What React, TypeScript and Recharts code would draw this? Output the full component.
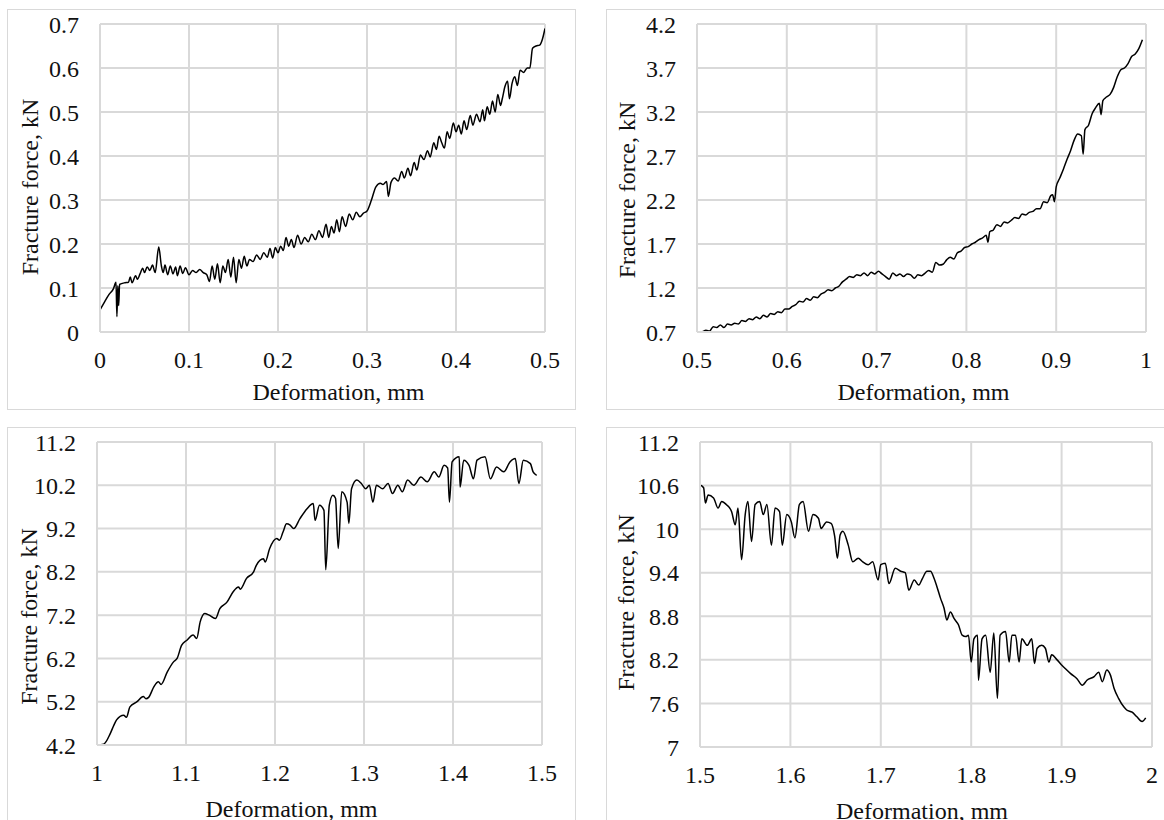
import { LineChart, Line, XAxis, YAxis, CartesianGrid, Label } from 'recharts';

const FONT = '"Liberation Serif", "Times New Roman", serif';
const GRID = '#d9d9d9';
const Y_AXIS_W = 80;

// axis ticks
const xTicks1 = [0, 0.1, 0.2, 0.3, 0.4, 0.5];
const yTicks1 = [0, 0.1, 0.2, 0.3, 0.4, 0.5, 0.6, 0.7];
const xTicks2 = [0.5, 0.6, 0.7, 0.8, 0.9, 1];
const yTicks2 = [0.7, 1.2, 1.7, 2.2, 2.7, 3.2, 3.7, 4.2];
const xTicks3 = [1, 1.1, 1.2, 1.3, 1.4, 1.5];
const yTicks3 = [4.2, 5.2, 6.2, 7.2, 8.2, 9.2, 10.2, 11.2];
const xTicks4 = [1.5, 1.6, 1.7, 1.8, 1.9, 2];
const yTicks4 = [7, 7.6, 8.2, 8.8, 9.4, 10, 10.6, 11.2];

// [deformation mm, fracture force kN]
const curve1: [number, number][] = [
  [0, 0.05], [0.005, 0.068], [0.01, 0.085], [0.015, 0.098], [0.018, 0.113], [0.019, 0.035], [0.02, 0.105], [0.021, 0.06], [0.022, 0.108], [0.028, 0.112],
  [0.032, 0.113], [0.034, 0.125], [0.036, 0.112], [0.04, 0.128], [0.042, 0.12], [0.045, 0.132], [0.048, 0.145], [0.05, 0.135], [0.053, 0.148], [0.056, 0.14],
  [0.059, 0.152], [0.062, 0.135], [0.066, 0.193], [0.069, 0.15], [0.071, 0.135], [0.073, 0.152], [0.076, 0.13], [0.079, 0.15], [0.082, 0.132], [0.085, 0.148],
  [0.087, 0.128], [0.09, 0.15], [0.093, 0.133], [0.096, 0.146], [0.1, 0.13], [0.104, 0.14], [0.108, 0.135], [0.112, 0.142], [0.116, 0.135], [0.12, 0.13],
  [0.123, 0.115], [0.126, 0.15], [0.129, 0.12], [0.132, 0.155], [0.135, 0.112], [0.138, 0.15], [0.141, 0.135], [0.144, 0.165], [0.147, 0.125], [0.15, 0.17],
  [0.153, 0.112], [0.156, 0.165], [0.159, 0.145], [0.162, 0.172], [0.165, 0.15], [0.168, 0.165], [0.172, 0.16], [0.176, 0.175], [0.18, 0.165], [0.184, 0.18],
  [0.188, 0.17], [0.191, 0.19], [0.194, 0.168], [0.197, 0.192], [0.2, 0.18], [0.203, 0.195], [0.206, 0.185], [0.209, 0.215], [0.212, 0.195], [0.215, 0.21],
  [0.218, 0.192], [0.222, 0.22], [0.226, 0.2], [0.23, 0.215], [0.234, 0.205], [0.238, 0.222], [0.242, 0.21], [0.246, 0.23], [0.25, 0.215], [0.254, 0.245],
  [0.257, 0.215], [0.26, 0.24], [0.263, 0.225], [0.266, 0.255], [0.269, 0.228], [0.272, 0.262], [0.276, 0.24], [0.28, 0.268], [0.284, 0.255], [0.288, 0.272],
  [0.292, 0.262], [0.296, 0.27], [0.3, 0.275], [0.305, 0.3], [0.31, 0.33], [0.315, 0.338], [0.318, 0.335], [0.322, 0.342], [0.324, 0.308], [0.327, 0.34],
  [0.331, 0.35], [0.335, 0.343], [0.339, 0.365], [0.342, 0.35], [0.346, 0.372], [0.349, 0.355], [0.353, 0.385], [0.356, 0.368], [0.36, 0.402], [0.364, 0.392],
  [0.368, 0.412], [0.371, 0.398], [0.375, 0.43], [0.378, 0.415], [0.381, 0.445], [0.384, 0.43], [0.387, 0.418], [0.39, 0.455], [0.393, 0.44], [0.397, 0.475],
  [0.4, 0.455], [0.403, 0.47], [0.406, 0.45], [0.409, 0.48], [0.412, 0.46], [0.416, 0.492], [0.419, 0.47], [0.423, 0.495], [0.427, 0.478], [0.43, 0.505],
  [0.432, 0.48], [0.435, 0.512], [0.438, 0.495], [0.441, 0.525], [0.444, 0.5], [0.447, 0.54], [0.45, 0.515], [0.452, 0.53], [0.455, 0.558], [0.458, 0.57],
  [0.46, 0.53], [0.463, 0.565], [0.466, 0.58], [0.469, 0.56], [0.472, 0.595], [0.476, 0.59], [0.48, 0.6], [0.483, 0.6], [0.486, 0.645], [0.49, 0.65],
  [0.494, 0.652], [0.497, 0.665], [0.5, 0.69],
];

const curve2: [number, number][] = [
  [0.5, 0.7], [0.505, 0.7], [0.51, 0.72], [0.514, 0.71], [0.518, 0.76], [0.522, 0.75], [0.526, 0.78], [0.53, 0.75], [0.534, 0.79], [0.538, 0.78],
  [0.542, 0.8], [0.546, 0.79], [0.55, 0.83], [0.554, 0.82], [0.558, 0.85], [0.562, 0.84], [0.566, 0.87], [0.57, 0.85], [0.574, 0.89], [0.578, 0.87],
  [0.582, 0.91], [0.586, 0.9], [0.59, 0.93], [0.594, 0.92], [0.598, 0.96], [0.602, 0.96], [0.606, 0.99], [0.61, 1.01], [0.614, 1.05], [0.618, 1.04],
  [0.622, 1.08], [0.626, 1.06], [0.63, 1.1], [0.634, 1.09], [0.638, 1.13], [0.642, 1.15], [0.646, 1.18], [0.65, 1.17], [0.654, 1.2], [0.658, 1.22],
  [0.662, 1.27], [0.666, 1.3], [0.67, 1.33], [0.674, 1.32], [0.678, 1.35], [0.682, 1.34], [0.686, 1.37], [0.69, 1.34], [0.694, 1.38], [0.698, 1.36],
  [0.702, 1.39], [0.706, 1.36], [0.71, 1.33], [0.714, 1.3], [0.718, 1.37], [0.722, 1.34], [0.726, 1.36], [0.73, 1.33], [0.734, 1.36], [0.738, 1.35],
  [0.742, 1.31], [0.746, 1.35], [0.75, 1.34], [0.754, 1.37], [0.758, 1.4], [0.762, 1.38], [0.766, 1.49], [0.77, 1.46], [0.774, 1.47], [0.778, 1.52],
  [0.782, 1.55], [0.786, 1.53], [0.79, 1.6], [0.794, 1.62], [0.798, 1.66], [0.802, 1.67], [0.806, 1.7], [0.81, 1.72], [0.814, 1.75], [0.818, 1.77],
  [0.822, 1.8], [0.824, 1.72], [0.826, 1.84], [0.83, 1.86], [0.834, 1.92], [0.838, 1.9], [0.842, 1.95], [0.846, 1.94], [0.85, 1.97], [0.854, 2.0],
  [0.858, 1.99], [0.862, 2.04], [0.866, 2.03], [0.87, 2.06], [0.874, 2.07], [0.878, 2.1], [0.882, 2.1], [0.886, 2.18], [0.89, 2.17], [0.894, 2.25],
  [0.896, 2.26], [0.898, 2.18], [0.9, 2.35], [0.904, 2.45], [0.908, 2.55], [0.912, 2.66], [0.916, 2.76], [0.92, 2.88], [0.924, 2.95], [0.928, 2.93],
  [0.93, 2.72], [0.932, 3.0], [0.936, 3.05], [0.94, 3.18], [0.944, 3.25], [0.948, 3.3], [0.95, 3.17], [0.952, 3.33], [0.956, 3.37], [0.96, 3.4],
  [0.964, 3.48], [0.968, 3.6], [0.972, 3.68], [0.976, 3.7], [0.98, 3.75], [0.984, 3.83], [0.988, 3.86], [0.992, 3.92], [0.996, 4.02],
];

const curve3: [number, number][] = [
  [1, 4.2], [1.0075, 4.22], [1.015, 4.47], [1.019, 4.66], [1.022, 4.78], [1.03, 4.89], [1.033, 4.84], [1.037, 5.08], [1.045, 5.2], [1.052, 5.32],
  [1.055, 5.27], [1.058, 5.3], [1.064, 5.55], [1.069, 5.66], [1.072, 5.6], [1.079, 5.89], [1.086, 6.12], [1.09, 6.2], [1.095, 6.5], [1.101, 6.62],
  [1.108, 6.74], [1.112, 6.66], [1.116, 7.05], [1.121, 7.24], [1.126, 7.2], [1.133, 7.12], [1.138, 7.35], [1.146, 7.5], [1.153, 7.74], [1.159, 7.85],
  [1.161, 7.8], [1.168, 8.05], [1.176, 8.2], [1.179, 8.35], [1.187, 8.5], [1.189, 8.43], [1.194, 8.74], [1.202, 8.97], [1.205, 8.93], [1.209, 9.12],
  [1.213, 9.31], [1.217, 9.28], [1.221, 9.2], [1.228, 9.43], [1.236, 9.66], [1.243, 9.78], [1.245, 9.39], [1.25, 9.74], [1.255, 9.62], [1.257, 8.25],
  [1.261, 9.74], [1.265, 9.97], [1.268, 9.9], [1.271, 8.74], [1.275, 10.05], [1.281, 9.81], [1.283, 9.32], [1.286, 10.12], [1.292, 10.32], [1.297, 10.24],
  [1.302, 10.12], [1.306, 10.2], [1.31, 9.81], [1.314, 10.2], [1.321, 10.12], [1.327, 10.24], [1.332, 10.01], [1.338, 10.2], [1.343, 10.05], [1.349, 10.32],
  [1.356, 10.2], [1.364, 10.39], [1.371, 10.28], [1.379, 10.51], [1.384, 10.39], [1.39, 10.66], [1.394, 10.6], [1.396, 9.81], [1.399, 10.74], [1.407, 10.86],
  [1.408, 10.16], [1.412, 10.78], [1.418, 10.66], [1.423, 10.35], [1.427, 10.78], [1.436, 10.86], [1.442, 10.35], [1.449, 10.62], [1.457, 10.51], [1.464, 10.74],
  [1.47, 10.82], [1.474, 10.24], [1.479, 10.78], [1.487, 10.7], [1.49, 10.51], [1.494, 10.43],
];

const curve4: [number, number][] = [
  [1.5, 10.61], [1.504, 10.57], [1.506, 10.36], [1.509, 10.47], [1.515, 10.43], [1.52, 10.29], [1.524, 10.38], [1.529, 10.34], [1.535, 10.24], [1.539, 10.06],
  [1.542, 10.29], [1.546, 9.58], [1.55, 10.2], [1.553, 10.38], [1.557, 9.83], [1.561, 10.34], [1.566, 10.38], [1.57, 10.2], [1.574, 10.34], [1.579, 9.78],
  [1.583, 10.29], [1.588, 10.24], [1.591, 9.78], [1.596, 10.2], [1.601, 10.1], [1.605, 9.88], [1.61, 10.34], [1.614, 10.38], [1.62, 9.97], [1.625, 10.2],
  [1.631, 10.15], [1.634, 10.01], [1.64, 10.1], [1.645, 10.08], [1.649, 9.9], [1.652, 9.6], [1.655, 9.92], [1.658, 9.97], [1.664, 9.78], [1.669, 9.55],
  [1.675, 9.6], [1.68, 9.55], [1.686, 9.51], [1.691, 9.55], [1.697, 9.3], [1.7, 9.51], [1.705, 9.53], [1.709, 9.25], [1.716, 9.46], [1.722, 9.42],
  [1.727, 9.4], [1.731, 9.16], [1.737, 9.3], [1.742, 9.23], [1.746, 9.32], [1.751, 9.42], [1.755, 9.42], [1.759, 9.32], [1.762, 9.21], [1.766, 9.05],
  [1.77, 8.91], [1.773, 8.75], [1.777, 8.86], [1.781, 8.77], [1.786, 8.68], [1.79, 8.54], [1.794, 8.52], [1.797, 8.54], [1.8, 8.17], [1.803, 8.49],
  [1.807, 8.54], [1.808, 7.92], [1.812, 8.49], [1.816, 8.54], [1.821, 8.03], [1.825, 8.57], [1.829, 7.67], [1.832, 8.54], [1.838, 8.59], [1.842, 8.17],
  [1.845, 8.54], [1.849, 8.54], [1.853, 8.17], [1.856, 8.49], [1.862, 8.4], [1.867, 8.49], [1.87, 8.15], [1.873, 8.36], [1.878, 8.4], [1.882, 8.36],
  [1.886, 8.17], [1.889, 8.27], [1.895, 8.2], [1.9, 8.13], [1.904, 8.08], [1.91, 8.01], [1.917, 7.94], [1.923, 7.85], [1.928, 7.92], [1.936, 7.97],
  [1.941, 8.03], [1.945, 7.9], [1.95, 8.06], [1.954, 7.99], [1.958, 7.81], [1.963, 7.67], [1.969, 7.55], [1.972, 7.51], [1.978, 7.48], [1.983, 7.42],
  [1.989, 7.35], [1.993, 7.4],
];

type PanelCfg = {
  box: { left: number; top: number; w: number; h: number };
  w: number;
  h: number;
  margin: { top: number; right: number; left: number };
  xAxisH: number;
  xTicks: number[];
  yTicks: number[];
  curve: [number, number][];
  xTitleDx: number;
  xTitleBase: number;
  yTitleDx: number;
  yTitleDy: number;
};

const panels: PanelCfg[] = [
  {
    box: { left: 7, top: 9, w: 569, h: 401 }, w: 566, h: 398,
    margin: { top: 14, right: 29, left: 12 }, xAxisH: 76,
    xTicks: xTicks1, yTicks: yTicks1, curve: curve1,
    xTitleDx: 16, xTitleBase: 68, yTitleDx: 70, yTitleDy: 9,
  },
  {
    box: { left: 606, top: 9, w: 600, h: 401 }, w: 557, h: 398,
    margin: { top: 14, right: 18, left: 10 }, xAxisH: 76,
    xTicks: xTicks2, yTicks: yTicks2, curve: curve2,
    xTitleDx: 2, xTitleBase: 68, yTitleDx: 70, yTitleDy: 12,
  },
  {
    box: { left: 7, top: 427, w: 569, h: 420 }, w: 566, h: 392,
    margin: { top: 14, right: 32, left: 9 }, xAxisH: 75,
    xTicks: xTicks3, yTicks: yTicks3, curve: curve3,
    xTitleDx: -28, xTitleBase: 72, yTitleDx: 68, yTitleDy: 23,
  },
  {
    box: { left: 606, top: 427, w: 600, h: 420 }, w: 557, h: 392,
    margin: { top: 14, right: 12, left: 13 }, xAxisH: 73,
    xTicks: xTicks4, yTicks: yTicks4, curve: curve4,
    xTitleDx: -4, xTitleBase: 72, yTitleDx: 74, yTitleDy: 8,
  },
];

const tickStyle = { fontFamily: FONT, fontSize: 24, fill: '#111' };

function Panel({ cfg }: { cfg: PanelCfg }) {
  const data = cfg.curve.map(([x, y]) => ({ x, y }));
  const plotLeft = cfg.margin.left + Y_AXIS_W;
  const plotRight = cfg.w - cfg.margin.right;
  const plotTop = cfg.margin.top;
  const plotBottom = cfg.h - cfg.xAxisH;
  const xMid = (plotLeft + plotRight) / 2 + cfg.xTitleDx;
  const yMid = (plotTop + plotBottom) / 2 + cfg.yTitleDy;
  const yX = plotLeft - cfg.yTitleDx;

  return (
    <>
      <div
        style={{
          position: 'absolute',
          left: cfg.box.left,
          top: cfg.box.top,
          width: cfg.box.w,
          height: cfg.box.h,
          border: `1.5px solid ${GRID}`,
          boxSizing: 'border-box',
        }}
      />
      <div style={{ position: 'absolute', left: cfg.box.left + 1, top: cfg.box.top + 1 }}>
        <LineChart
          width={cfg.w}
          height={cfg.h}
          data={data}
          margin={{ top: cfg.margin.top, right: cfg.margin.right, left: cfg.margin.left, bottom: 0 }}
        >
          <CartesianGrid stroke={GRID} strokeWidth={2} />
          <XAxis
            type="number"
            dataKey="x"
            domain={[cfg.xTicks[0], cfg.xTicks[cfg.xTicks.length - 1]]}
            ticks={cfg.xTicks}
            interval={0}
            height={cfg.xAxisH}
            axisLine={{ stroke: GRID, strokeWidth: 2 }}
            tickLine={false}
            tickSize={0}
            tickMargin={19}
            tick={tickStyle}
            allowDataOverflow
          >
            <Label
              content={() => (
                <text x={xMid} y={plotBottom + cfg.xTitleBase} textAnchor="middle" style={tickStyle}>
                  Deformation, mm
                </text>
              )}
            />
          </XAxis>
          <YAxis
            type="number"
            domain={[cfg.yTicks[0], cfg.yTicks[cfg.yTicks.length - 1]]}
            ticks={cfg.yTicks}
            interval={0}
            width={Y_AXIS_W}
            axisLine={{ stroke: GRID, strokeWidth: 2 }}
            tickLine={false}
            tickSize={0}
            tickMargin={21}
            tick={tickStyle}
            allowDataOverflow
          >
            <Label
              content={() => (
                <text
                  x={yX}
                  y={yMid}
                  transform={`rotate(-90, ${yX}, ${yMid})`}
                  textAnchor="middle"
                  dominantBaseline="central"
                  style={tickStyle}
                >
                  Fracture force, kN
                </text>
              )}
            />
          </YAxis>
          <Line
            type="monotone"
            dataKey="y"
            stroke="#000"
            strokeWidth={1.5}
            dot={false}
            activeDot={false}
            isAnimationActive={false}
          />
        </LineChart>
      </div>
    </>
  );
}

export default function App() {
  return (
    <div
      style={{
        position: 'absolute',
        left: 0,
        top: 0,
        width: 1164,
        height: 820,
        overflow: 'hidden',
        background: '#fff',
      }}
    >
      {panels.map((p, i) => (
        <Panel key={i} cfg={p} />
      ))}
    </div>
  );
}
